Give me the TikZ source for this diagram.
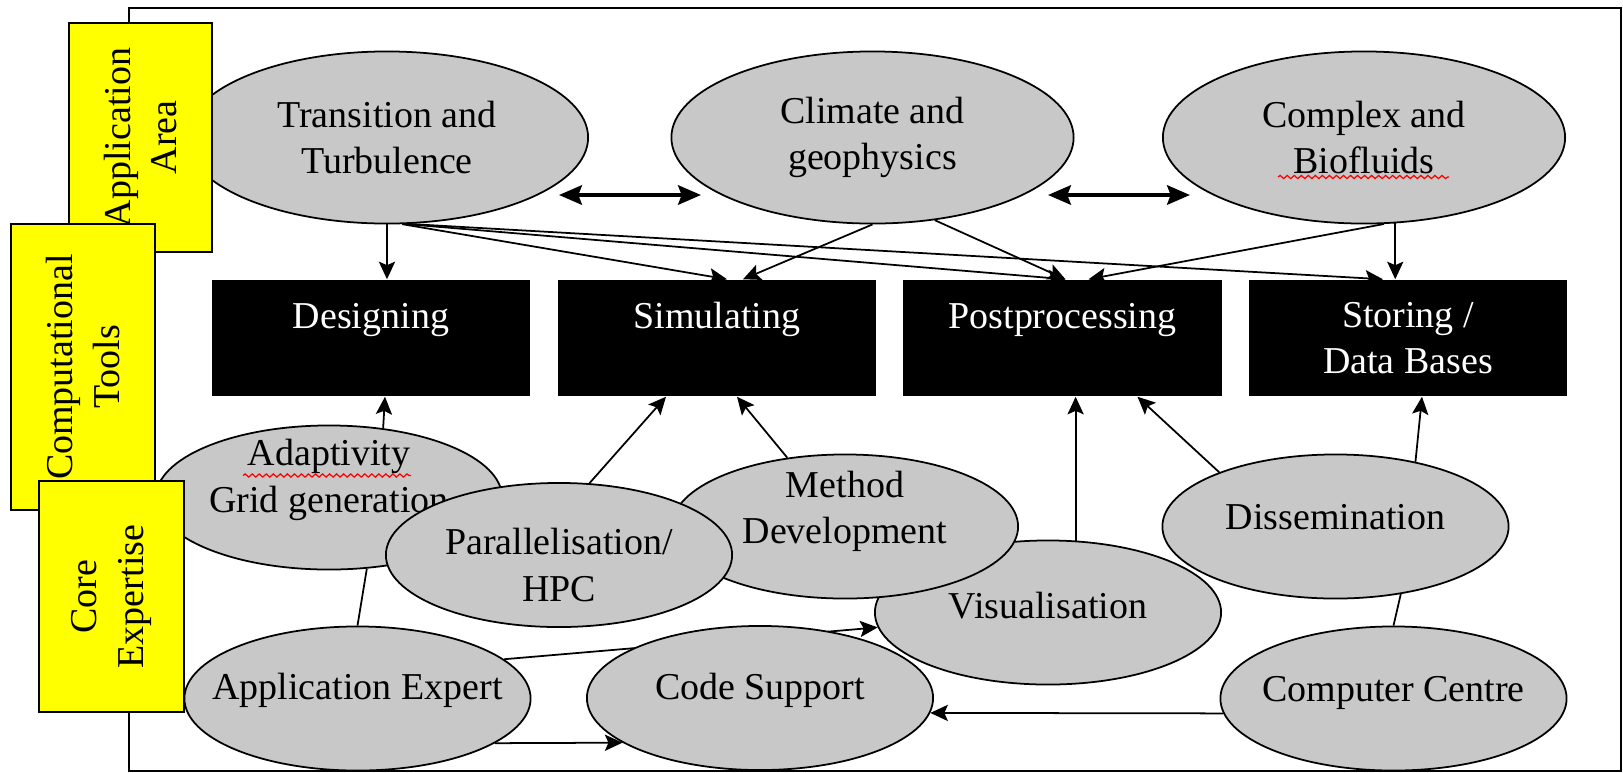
\documentclass[tikz,border=0pt]{standalone}
\usepackage{fontspec}
\setmainfont{Liberation Serif}
\usetikzlibrary{shapes.geometric,arrows.meta,calc,decorations.pathmorphing}

\definecolor{bubblegray}{RGB}{200,200,200}
\definecolor{tagyellow}{RGB}{255,255,0}

\begin{document}
\begin{tikzpicture}[x=0.01cm, y=0.01cm]
\tikzstyle{every node}+=[font=\fontsize{10.8}{13.2}\selectfont]
\tikzstyle{bigbubble}=[ellipse, draw=black, line width=0.5pt, fill=bubblegray, inner sep=0pt, minimum width=4.02cm, minimum height=1.72cm]
\tikzstyle{bubble}=[ellipse, draw=black, line width=0.5pt, fill=bubblegray, inner sep=0pt, minimum width=3.46cm, minimum height=1.44cm]
\tikzstyle{btext}=[align=center, inner sep=0pt]
\tikzstyle{tool}=[rectangle, fill=black, text=white, align=center, inner sep=0pt, minimum width=3.18cm, minimum height=1.16cm]
\tikzstyle{onerow}=[text depth=12.7pt]
\tikzstyle{tag}=[rectangle, draw=black, line width=0.5pt, fill=tagyellow, rotate=90, align=center, inner sep=0pt]
\tikzstyle{link}=[line width=0.5pt, -{Stealth[length=5pt,width=4.6pt,inset=1pt]}]
\tikzstyle{tie}=[line width=0.5pt]
\tikzstyle{twoway}=[line width=1.1pt, {Stealth[length=6.5pt,width=5.5pt,inset=1pt]}-{Stealth[length=6.5pt,width=5.5pt,inset=1pt]}]
\tikzstyle{spell}=[red, line width=0.35pt, decorate, decoration={snake, amplitude=0.45pt, segment length=2pt}]

\useasboundingbox (0,0) rectangle (1623,-772);
\draw [line width=0.45pt] (129,-8) rectangle (1621,-771);

% application areas
\node [bigbubble, label={[btext]center:Transition and\\Turbulence}] (trans) at (387,-137.5) {};
\node [bigbubble, label={[btext]center:Climate and\\geophysics}] (clim) at (872.5,-137.5) {};
\node [bigbubble, label={[btext]center:Complex and\\Biofluids}] (cmplx) at (1364,-137.5) {};
\draw [spell] ($(cmplx.center)+(-86,-39.5)$) -- ($(cmplx.center)+(85,-39.5)$);

\coordinate (ta) at (559,-195);
\coordinate (tb) at (701,-195);
\coordinate (tc) at (1048,-195);
\coordinate (td) at (1190,-195);
\draw [twoway] (ta) -- (tb);
\draw [twoway] (tc) -- (td);

% computational tools
\node [tool, onerow] (des) at (371,-338) {Designing};
\node [tool, onerow] (sim) at (717,-338) {Simulating};
\node [tool, onerow] (post) at (1062.5,-338) {Postprocessing};
\node [tool] (stor) at (1408,-338) {Storing /\\Data Bases};

% core expertise
\node [bubble, label={[btext,yshift=5pt]center:Adaptivity\\Grid generation}] (adapt) at (329,-497.5) {};
\draw [spell] ($(adapt.center)+(-86,22)$) -- ($(adapt.center)+(82,22)$);
\node [bubble, label={[btext,yshift=2pt]center:Visualisation}] (vis) at (1048,-612.5) {};
\node [bubble, label={[btext,yshift=4.3pt]center:Method\\Development}] (meth) at (845,-526.5) {};
\node [bubble, label={[btext,yshift=-2.8pt]center:Parallelisation/\\HPC}] (par) at (559,-555) {};
\node [bubble, label={[btext,yshift=2.3pt]center:Application Expert}] (appx) at (357.5,-698.5) {};
\draw [link] (appx.15) -- (vis.185);
\node [bubble, label={[btext,yshift=2.3pt]center:Code Support}] (cs) at (760,-698) {};
\node [bubble, label={[btext,yshift=2.8pt]center:Dissemination}] (diss) at (1335.5,-526.5) {};
\node [bubble, label={[btext,yshift=1.7pt]center:Computer Centre}] (cc) at (1393.5,-698.5) {};

\node [tag, minimum width=2.29cm, minimum height=1.43cm] (area) at (140.5,-137.5) {Application\\Area};
\node [tag, minimum width=2.86cm, minimum height=1.44cm] (tools) at (83,-367) {Computational\\Tools};
\node [tag, minimum width=2.31cm, minimum height=1.45cm] (core) at (111.5,-596.5) {Core\\Expertise};

\draw [link] (trans.south) -- (trans.south |- des.north);
\draw [link] (trans.-80) -- ($(sim.north)+(10,0)$);
\draw [link] (trans.-78) -- ($(post.north)+(3,0)$);
\draw [link] (trans.-76) -- ($(stor.north)+(-25,0)$);
\draw [link] (clim.south) -- ($(sim.north)+(26,0)$);
\draw [link] (clim.-53) -- ($(post.north)+(3,0)$);
\draw [link] (cmplx.-77) -- ($(post.north)+(26,0)$);
\draw [link] (cmplx.-70) -- (cmplx.-70 |- stor.north);

\draw [link] (adapt.52) -- ($(des.south)+(14,0)$);
\draw [link] (par.67) -- ($(sim.south)+(-51,0)$);
\draw [link] (meth.130) -- ($(sim.south)+(20,0)$);
\draw [link] (vis.69) -- (vis.69 |- post.south);
\draw [link] (diss.155) -- ($(post.south)+(75,0)$);
\draw [link] (diss.39) -- ($(stor.south)+(14,0)$);
\draw [tie] (appx.north) -- (adapt.-62);
\draw [link] (appx.-18) -- (cs.198);
\draw [link] (cc.185) -- (cs.-5);
\draw [tie] (cc.north) -- (diss.-46);
\end{tikzpicture}
\end{document}
